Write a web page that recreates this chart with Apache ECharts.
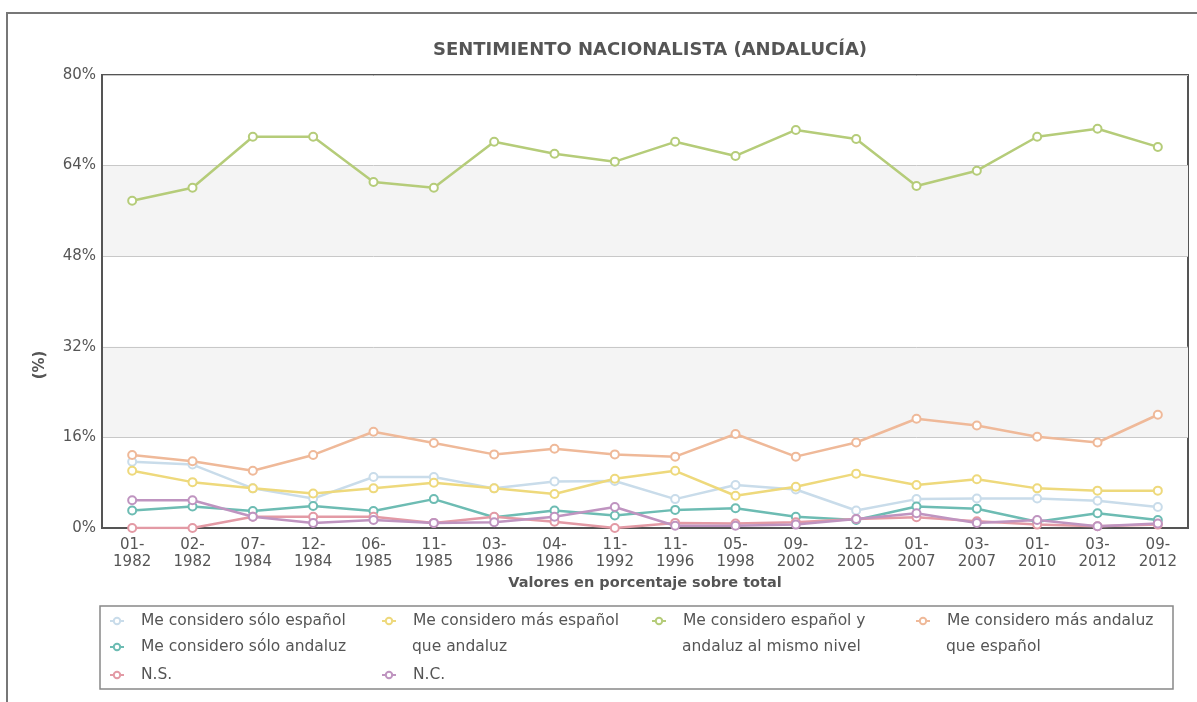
<!DOCTYPE html>
<html><head><meta charset="utf-8">
<script src="https://cdn.jsdelivr.net/npm/echarts@6/dist/echarts.min.js"></script>
<style>html,body{margin:0;padding:0;background:#fff}#c{width:1197px;height:702px}</style>
</head><body><div id="c"></div>
<script>
const categories = ['01-1982','02-1982','07-1984','12-1984','06-1985','11-1985','03-1986','04-1986','11-1992','11-1996','05-1998','09-2002','12-2005','01-2007','03-2007','01-2010','03-2012','09-2012'];
const yTicks = [0, 16, 32, 48, 64, 80];
const seriesNames = ['Me considero sólo español','Me considero más español que andaluz','Me considero español y andaluz al mismo nivel','Me considero más andaluz que español','Me considero sólo andaluz','N.S.','N.C.'];
const soloEspanol = [11.7, 11.2, 7.0, 5.2, 9.0, 9.0, 7.0, 8.2, 8.3, 5.1, 7.6, 6.8, 3.1, 5.1, 5.2, 5.2, 4.8, 3.7];
const masEspanol  = [10.1, 8.1, 7.0, 6.1, 7.0, 8.0, 7.0, 6.0, 8.7, 10.1, 5.7, 7.3, 9.6, 7.6, 8.6, 7.0, 6.6, 6.6];
const mismoNivel  = [57.8, 60.1, 69.1, 69.1, 61.1, 60.1, 68.2, 66.1, 64.7, 68.2, 65.7, 70.3, 68.7, 60.4, 63.1, 69.1, 70.5, 67.3];
const masAndaluz  = [12.9, 11.8, 10.1, 12.9, 17.0, 15.0, 13.0, 14.0, 13.0, 12.6, 16.6, 12.6, 15.1, 19.3, 18.1, 16.1, 15.1, 20.0];
const soloAndaluz = [3.1, 3.8, 3.0, 3.9, 3.0, 5.1, 1.9, 3.1, 2.2, 3.2, 3.5, 2.0, 1.4, 3.8, 3.4, 1.1, 2.6, 1.4];
const noSabe      = [0, 0, 2.0, 2.0, 2.0, 0.9, 2.0, 1.1, 0, 0.9, 0.8, 1.0, 1.6, 1.9, 1.2, 0.6, 0.3, 0.6];
const noContesta  = [4.9, 4.9, 2.0, 0.9, 1.4, 0.9, 1.0, 2.0, 3.7, 0.4, 0.4, 0.6, 1.6, 2.6, 0.9, 1.4, 0.3, 0.8];

const seriesData = [soloEspanol, masEspanol, mismoNivel, masAndaluz, soloAndaluz, noSabe, noContesta];
const colors = ['#c9dcea', '#eed97c', '#b5cc79', '#efb999', '#6dbcb3', '#e39aa5', '#bf94c0'];
const FONT = 'DejaVu Sans';
const TXT = '#555';

const chart = echarts.init(document.getElementById('c'));

// legend layout: [left, top, firstLine, secondLine]
const legendLayout = [
  [109, 613, 'Me considero sólo español', null],
  [381, 613, 'Me considero más español', 'que andaluz'],
  [651, 613, 'Me considero español y', 'andaluz al mismo nivel'],
  [915, 613, 'Me considero más andaluz', 'que español'],
  [109, 639, 'Me considero sólo andaluz', null],
  [109, 667, 'N.S.', null],
  [381, 667, 'N.C.', null]
];

const legends = seriesNames.map((n, i) => ({
  data: [n],
  left: legendLayout[i][0],
  top: legendLayout[i][1],
  orient: 'horizontal',
  padding: 0,
  itemWidth: 14,
  itemHeight: 8,
  selectedMode: false,
  formatter: legendLayout[i][2],
  textStyle: { color: TXT, fontFamily: FONT, fontSize: 15.5, padding: [0, 0, 0, 12] }
}));

const extraTexts = legendLayout.filter(l => l[3]).map(l => ({
  type: 'text',
  left: l[0] + 31,
  top: 639,
  style: { text: l[3], fill: TXT, font: '15.5px "DejaVu Sans"' }
}));

chart.setOption({
  backgroundColor: '#fff',
  animation: false,
  title: {
    text: 'SENTIMIENTO NACIONALISTA (ANDALUCÍA)',
    left: 645, top: 36, textAlign: 'center',
    textStyle: { color: TXT, fontFamily: FONT, fontSize: 18, fontWeight: 'bold' }
  },
  legend: legends,
  grid: {
    left: 102, right: 9, top: 75, bottom: 174,
    show: true, borderColor: '#555', borderWidth: 2, backgroundColor: 'transparent'
  },
  xAxis: {
    type: 'category', data: categories, boundaryGap: true,
    axisLine: { lineStyle: { color: '#555', width: 2 } },
    axisTick: { show: false },
    axisLabel: { color: TXT, fontFamily: FONT, fontSize: 15, lineHeight: 17, margin: 9, interval: 0,
      formatter: v => v.replace('-', '-\n') },
    name: 'Valores en porcentaje sobre total', nameLocation: 'middle', nameGap: 44,
    nameTextStyle: { color: TXT, fontFamily: FONT, fontSize: 14.5, fontWeight: 'bold' }
  },
  yAxis: {
    type: 'value', min: yTicks[0], max: yTicks[yTicks.length - 1], interval: yTicks[1] - yTicks[0],
    axisLine: { show: true, lineStyle: { color: '#555', width: 2 } },
    axisTick: { show: false },
    axisLabel: { color: TXT, fontFamily: FONT, fontSize: 15, margin: 6, formatter: '{value}%' },
    splitLine: { lineStyle: { color: '#c8c8c8', width: 1 } },
    splitArea: { show: true, areaStyle: { color: ['rgba(255,255,255,0)', '#f4f4f4'] } }
  },
  series: seriesNames.map((n, i) => ({
    name: n, type: 'line', data: seriesData[i],
    symbol: 'emptyCircle', symbolSize: 8,
    lineStyle: { color: colors[i], width: 2.5 },
    itemStyle: { color: colors[i], borderWidth: 1.5 },
    emphasis: { disabled: true }
  })),
  graphic: [
    { type: 'rect', shape: { x: 7, y: 13, width: 1400, height: 900 },
      style: { fill: 'none', stroke: '#777', lineWidth: 2 }, silent: true },
    { type: 'rect', shape: { x: 100, y: 606, width: 1073, height: 83 },
      style: { fill: 'none', stroke: '#888', lineWidth: 1.5 }, silent: true },
    { type: 'text', x: 40, y: 365, rotation: Math.PI / 2,
      style: { text: '(%)', fill: TXT, font: 'bold 15px "DejaVu Sans"', align: 'center', verticalAlign: 'middle' } },
    ...extraTexts
  ]
});
</script></body></html>
